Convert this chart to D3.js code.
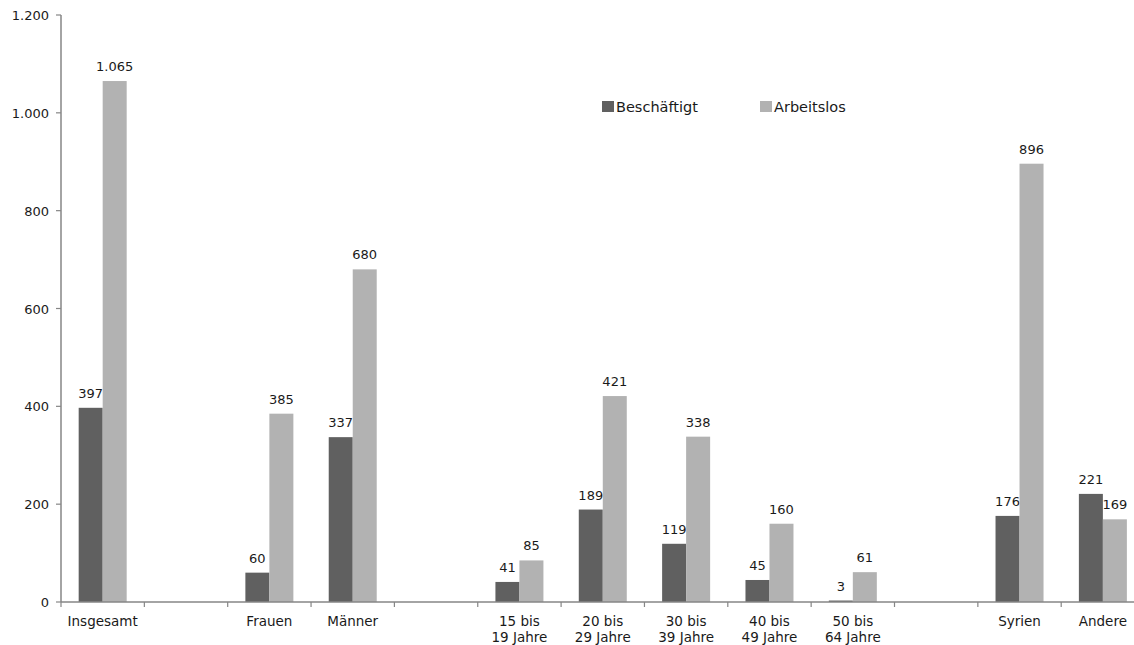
<!DOCTYPE html>
<html><head><meta charset="utf-8">
<script src="https://cdn.jsdelivr.net/npm/d3@7"></script>
<style>body{margin:0;background:#fff}svg{display:block}text{font-family:"DejaVu Sans",sans-serif;fill:#1a1a1a}</style>
</head><body><svg id="c" width="1134" height="645"></svg>
<script>
const categories = ["Insgesamt","", "Frauen","Männer","", "15 bis|19 Jahre","20 bis|29 Jahre","30 bis|39 Jahre","40 bis|49 Jahre","50 bis|64 Jahre","", "Syrien","Andere"];
const beschaeftigt = [397,null,60,337,null,41,189,119,45,3,null,176,221];
const arbeitslos = [1065,null,385,680,null,85,421,338,160,61,null,896,169];
const seriesNames = ["Beschäftigt","Arbeitslos"];
const colors = ["#606060","#b2b2b2"];
const yTicks = [0,200,400,600,800,1000,1200];

const svg = d3.select("#c");
const mLeft = 61, mTop = 15, mBottom = 602;
const keys = categories.map((c,i)=>"k"+i);
const x = d3.scaleBand().domain(keys).range([mLeft, mLeft + 83.35*13]).paddingInner(0).paddingOuter(0);
const y = d3.scaleLinear().domain([0,1200]).range([mBottom, mTop]);
const fmt = v => d3.format(",")(v).replace(/,/g,".");

const barW = 24;
const series = [beschaeftigt, arbeitslos];
series.forEach((vals, s) => {
  const g = svg.append("g");
  keys.forEach((k,i) => {
    const v = vals[i];
    if (v == null) return;
    const cx = x(k) + x.bandwidth()/2;
    const bx = cx - barW + s*barW;
    g.append("rect").attr("x", bx).attr("y", y(v)).attr("width", barW).attr("height", y(0)-y(v))
      .attr("fill", colors[s]);
    g.append("text").attr("x", bx + barW/2).attr("y", y(v) - 10).attr("text-anchor","middle")
      .attr("font-size", 13).text(fmt(v));
  });
});

// y axis
const ya = svg.append("g");
ya.append("line").attr("x1",mLeft).attr("x2",mLeft).attr("y1",mTop).attr("y2",mBottom).attr("stroke","#868686").attr("stroke-width",1.5);
yTicks.forEach(t => {
  ya.append("line").attr("x1",mLeft-5).attr("x2",mLeft).attr("y1",y(t)).attr("y2",y(t)).attr("stroke","#868686").attr("stroke-width",1.2);
  ya.append("text").attr("x",49).attr("y",y(t)+5).attr("text-anchor","end").attr("font-size",13).text(fmt(t));
});

// x axis
const xa = svg.append("g");
xa.append("line").attr("x1",mLeft).attr("x2",1134).attr("y1",mBottom).attr("y2",mBottom).attr("stroke","#868686").attr("stroke-width",1.5);
keys.forEach((k,i) => {
  xa.append("line").attr("x1",x(k)).attr("x2",x(k)).attr("y1",mBottom).attr("y2",mBottom+5).attr("stroke","#868686").attr("stroke-width",1.2);
  const lines = categories[i].split("|");
  const t = xa.append("text").attr("x", x(k)+x.bandwidth()/2).attr("y", 626).attr("text-anchor","middle").attr("font-size",13.5);
  lines.forEach((ln,j) => t.append("tspan").attr("x", x(k)+x.bandwidth()/2).attr("dy", j===0?0:15.5).text(ln));
});

// legend
const legX = [602, 760];
seriesNames.forEach((n,s) => {
  svg.append("rect").attr("x",legX[s]).attr("y",101).attr("width",12).attr("height",11).attr("fill",colors[s]);
  svg.append("text").attr("x",legX[s]+14).attr("y",112).attr("font-size",14.5).text(n);
});
</script></body></html>
